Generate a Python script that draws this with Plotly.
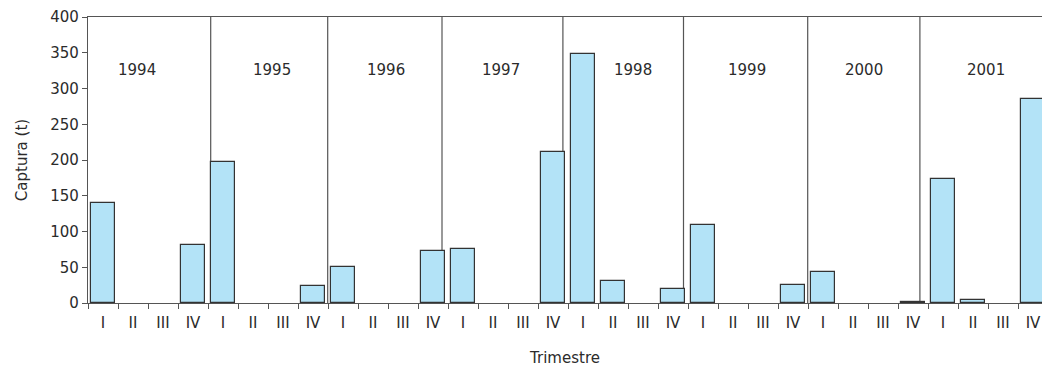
import plotly.graph_objects as go

years = ["1994", "1995", "1996", "1997", "1998", "1999", "2000", "2001"]
quarters = ["I", "II", "III", "IV"]
captura = [
    140, None, None, 81,
    197, None, None, 24,
    51, None, None, 73,
    75, None, None, 211,
    348, 31, None, 19,
    109, None, None, 25,
    43, None, None, 1.5,
    173, 4, None, 286,
]
year_breaks = [3.59, 7.49, 11.30, 15.33, 19.35, 23.49, 27.23]
year_label_x = [1.13, 5.62, 9.42, 13.26, 17.68, 21.48, 25.38, 29.42]
year_label_y = 326

n = len(captura)
xs = list(range(n))
labels = [q for _ in years for q in quarters]

FAM = "DejaVu Sans, Verdana, sans-serif"
TXT = "#2b2b2b"
font = dict(family=FAM, size=15, color=TXT)

fig = go.Figure()
fig.add_trace(go.Bar(
    x=xs, y=captura, width=0.79,
    marker=dict(color="#b3e3f7", line=dict(color="#333333", width=1.2)),
))

for b in year_breaks:
    fig.add_shape(type="line", xref="x", yref="y", x0=b, x1=b, y0=0, y1=400,
                  line=dict(color="#555555", width=1.2), layer="below")

for yr, lx in zip(years, year_label_x):
    fig.add_annotation(x=lx, y=year_label_y, text=yr, showarrow=False,
                       font=dict(family=FAM, size=15, color=TXT))

fig.update_layout(
    width=1042, height=369,
    margin=dict(l=88, r=0, t=17, b=66),
    plot_bgcolor="white", paper_bgcolor="white",
    font=font, showlegend=False, bargap=0,
)
fig.update_xaxes(
    range=[-0.5, 31.3], tickmode="array", tickvals=xs, ticktext=labels,
    ticks="", showgrid=False, zeroline=False,
    showline=True, linecolor="#555555", linewidth=1.2, mirror=True,
    minor=dict(tickvals=[i - 0.5 for i in range(n + 1)], ticks="outside",
               ticklen=5, tickcolor="#555555", tickwidth=1, showgrid=False),
    ticklabelstandoff=6,
    tickfont=dict(family=FAM, size=15, color=TXT),
    title=dict(text="Trimestre", font=dict(family=FAM, size=15, color=TXT), standoff=21),
)
fig.update_yaxes(
    range=[0, 400], tickmode="array", tickvals=list(range(0, 401, 50)),
    ticks="outside", ticklen=5, tickcolor="#555555", showgrid=False, zeroline=False,
    showline=True, linecolor="#555555", linewidth=1.2,
    tickfont=dict(family=FAM, size=15, color=TXT),
    title=dict(text="Captura (t)", font=dict(family=FAM, size=15, color=TXT), standoff=19),
)

fig.write_html("out.html")
